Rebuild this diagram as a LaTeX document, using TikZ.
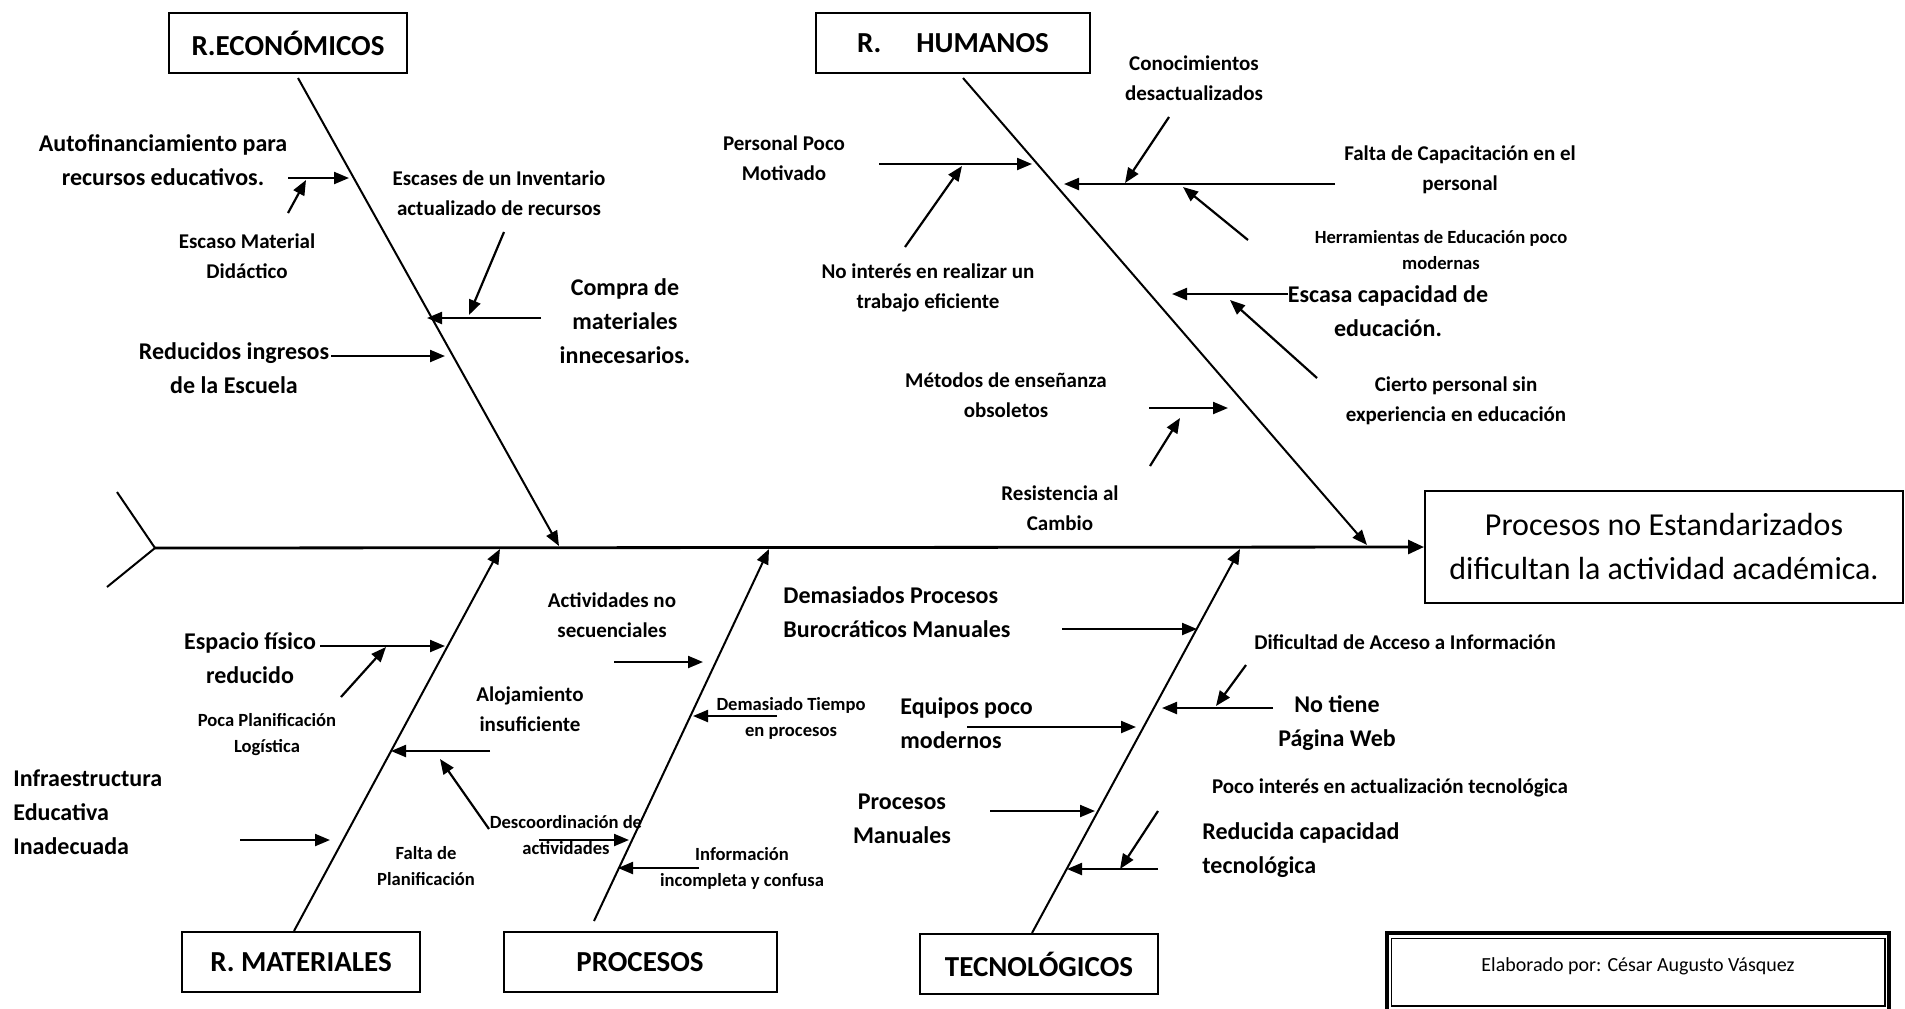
\documentclass[tikz,border=0pt]{standalone}
\usepackage{fontspec}
\setmainfont{Carlito}
\usetikzlibrary{arrows.meta}

\begin{document}
\begin{tikzpicture}[
  x=0.5pt, y=-0.5pt,
  catbox/.style={draw, line width=1pt, font=\bfseries\fontsize{14.5}{17}\selectfont,
    minimum width=119pt, minimum height=30pt},
  effectbox/.style={draw, line width=1pt, font=\fontsize{16}{22}\selectfont, align=center,
    minimum width=239pt, minimum height=56pt},
  big/.style={font=\bfseries\fontsize{12}{17}\selectfont, align=center, inner sep=0pt},
  mid/.style={font=\bfseries\fontsize{10.5}{15}\selectfont, align=center, inner sep=0pt},
  small/.style={font=\bfseries\fontsize{9.3}{13}\selectfont, align=center, inner sep=0pt},
  spine/.style={line width=1pt},
  spinearrow/.style={-{Triangle[length=7.5pt, width=6pt]}, line width=1pt},
  cause/.style={-{Triangle[length=7.5pt, width=6pt]}, line width=1.1pt},
  mainline/.style={-{Triangle[length=8pt, width=7pt]}, line width=1.4pt}
]
  \useasboundingbox (0,0) rectangle (1905,1008);

  % Categories
  \node[catbox] (econ) at (288,43) {R.ECONÓMICOS};
  \node[catbox, minimum width=137pt] (human) at (953,43) {R.\hspace{17.5pt}HUMANOS\hspace{19pt}};
  \node[catbox] (mater) at (301,962) {R. MATERIALES};
  \node[catbox, minimum width=136.5pt] (proc) at (640,962) {PROCESOS};
  \node[catbox] (tecno) at (1039,964) {TECNOLÓGICOS};

  % Effect
  \node[effectbox] (effect) at (1664,547) {Procesos no Estandarizados\\dificultan la actividad académica.};

  \node[draw, line width=1.6pt, minimum width=251pt, minimum height=39pt, text depth=7pt,
    font=\fontsize{10}{12}\selectfont] (autor) at (1638,972) {Elaborado por: César Augusto Vásquez};
  \draw[line width=0.9pt] ([shift={(3pt,-3.5pt)}]autor.north west) rectangle ([shift={(-3pt,3.5pt)}]autor.south east);

  % Backbone
  \coordinate (tail) at (155,548);
  \coordinate (tailup) at (117,492);
  \coordinate (taildown) at (107,587);
  \draw[spine] (tailup) -- (tail) -- (taildown);
  \draw[mainline] (tail) -- (effect.west);

  % Bones
  \coordinate (econend) at (559,546);
  \coordinate (humend) at (1367,545);
  \coordinate (matend) at (500,549);
  \coordinate (procend) at (769,549);
  \coordinate (tecend) at (1240,549);
  \draw[spinearrow] ([shift={(5pt,-2pt)}]econ.south) -- (econend);
  \draw[spinearrow] ([shift={(5pt,-2pt)}]human.south) -- (humend);
  \draw[spinearrow] ([xshift=-3.5pt]mater.north) -- (matend);
  \draw[spinearrow] ([shift={(-23pt,5pt)}]proc.north) -- (procend);
  \draw[spinearrow] ([xshift=-3.5pt]tecno.north) -- (tecend);

  % R. Economicos
  \node[big] (autofin) at (163,160) {Autofinanciamiento para\\recursos educativos.};
  \node[mid] (escaso) at (247,256) {Escaso Material\\Didáctico};
  \node[mid] (escases) at (499,193) {Escases de un Inventario\\actualizado de recursos};
  \node[big] (compra) at (625,321) {Compra de\\materiales\\innecesarios.};
  \node[big] (ingresos) at (234,368) {Reducidos ingresos\\de la Escuela};
  \coordinate (e1a) at (288,178); \coordinate (e1b) at (349,178);
  \coordinate (e2a) at (288,213); \coordinate (e2b) at (306,180);
  \coordinate (e3a) at (504,232); \coordinate (e3b) at (469,315);
  \coordinate (e4a) at (541,318); \coordinate (e4b) at (427,318);
  \coordinate (e5a) at (331,356); \coordinate (e5b) at (445,356);
  \draw[cause] (e1a) -- (e1b);
  \draw[cause] (e2a) -- (e2b);
  \draw[cause] (e3a) -- (e3b);
  \draw[cause] (e4a) -- (e4b);
  \draw[cause] (e5a) -- (e5b);

  % R. Humanos
  \node[mid] (conoc) at (1194,78) {Conocimientos\\desactualizados};
  \node[mid] (motiv) at (784,158) {Personal Poco\\Motivado};
  \node[mid] (interes) at (928,288) {No interés en realizar un\\trabajo eficiente};
  \node[mid] (capac) at (1460,170) {Falta de Capacitación en el\\personal};
  \node[small] (herram) at (1441,250) {Herramientas de Educación poco\\modernas};
  \node[big] (escasa) at (1388,311) {Escasa capacidad de\\educación.};
  \node[mid] (cierto) at (1456,401) {Cierto personal sin\\experiencia en educación};
  \node[mid] (metodos) at (1006,395) {Métodos de enseñanza\\obsoletos};
  \node[mid] (resist) at (1060,508) {Resistencia al\\Cambio};
  \coordinate (h1a) at (879,164); \coordinate (h1b) at (1032,164);
  \coordinate (h2a) at (905,247); \coordinate (h2b) at (962,166);
  \coordinate (h3a) at (1335,184); \coordinate (h3b) at (1064,184);
  \coordinate (h4a) at (1169,117); \coordinate (h4b) at (1125,183);
  \coordinate (h5a) at (1248,240); \coordinate (h5b) at (1183,187);
  \coordinate (h6a) at (1288,294); \coordinate (h6b) at (1172,294);
  \coordinate (h7a) at (1317,378); \coordinate (h7b) at (1230,300);
  \coordinate (h8a) at (1149,408); \coordinate (h8b) at (1228,408);
  \coordinate (h9a) at (1150,466); \coordinate (h9b) at (1180,418);
  \draw[cause] (h1a) -- (h1b);
  \draw[cause] (h2a) -- (h2b);
  \draw[cause] (h3a) -- (h3b);
  \draw[cause] (h4a) -- (h4b);
  \draw[cause] (h5a) -- (h5b);
  \draw[cause] (h6a) -- (h6b);
  \draw[cause] (h7a) -- (h7b);
  \draw[cause] (h8a) -- (h8b);
  \draw[cause] (h9a) -- (h9b);

  % R. Materiales
  \node[big] (espacio) at (250,658) {Espacio físico\\reducido};
  \node[small] (logist) at (267,735) {Poca Planificación\\Logística};
  \node[mid] (aloj) at (530,709) {Alojamiento\\insuficiente};
  \node[big, anchor=west, align=left] (infra) at (13,812) {Infraestructura\\Educativa\\Inadecuada};
  \node[small] (planif) at (426,866) {Falta de\\Planificación};
  \coordinate (m1a) at (320,646); \coordinate (m1b) at (445,646);
  \coordinate (m2a) at (341,697); \coordinate (m2b) at (386,647);
  \coordinate (m3a) at (490,751); \coordinate (m3b) at (391,751);
  \coordinate (m4a) at (489,829); \coordinate (m4b) at (440,759);
  \coordinate (m5a) at (240,840); \coordinate (m5b) at (330,840);
  \draw[cause] (m1a) -- (m1b);
  \draw[cause] (m2a) -- (m2b);
  \draw[cause] (m3a) -- (m3b);
  \draw[cause] (m4a) -- (m4b);
  \draw[cause] (m5a) -- (m5b);

  % Procesos
  \node[mid] (secuen) at (612,615) {Actividades no\\secuenciales};
  \node[small] (descoord) at (566,835) {Descoordinación de\\actividades};
  \node[small] (tiempo) at (791,718) {Demasiado Tiempo\\en procesos};
  \node[small] (info) at (742,868) {Información\\incompleta y confusa};
  \coordinate (p1a) at (614,662); \coordinate (p1b) at (703,662);
  \coordinate (p2a) at (539,840); \coordinate (p2b) at (629,840);
  \coordinate (p3a) at (777,716); \coordinate (p3b) at (693,716);
  \coordinate (p4a) at (699,868); \coordinate (p4b) at (618,868);
  \draw[cause] (p1a) -- (p1b);
  \draw[cause] (p2a) -- (p2b);
  \draw[cause] (p3a) -- (p3b);
  \draw[cause] (p4a) -- (p4b);

  % Tecnologicos
  \node[big, anchor=west, align=left] (buro) at (783,612) {Demasiados Procesos\\Burocráticos Manuales};
  \node[big, anchor=west, align=left] (equipos) at (900,723) {Equipos poco\\modernos};
  \node[big] (manual) at (902,819) {Procesos\\Manuales};
  \node[mid] (acceso) at (1405,642) {Dificultad de Acceso a Información};
  \node[big] (web) at (1337,723) {No tiene\\Página Web};
  \node[mid] (actual) at (1390,788) {Poco interés en actualización tecnológica};
  \node[big, anchor=west, align=left] (capactec) at (1202,850) {Reducida capacidad\\tecnológica};
  \coordinate (t1a) at (1062,629); \coordinate (t1b) at (1197,629);
  \coordinate (t2a) at (967,727); \coordinate (t2b) at (1136,727);
  \coordinate (t3a) at (990,811); \coordinate (t3b) at (1095,811);
  \coordinate (t4a) at (1273,708); \coordinate (t4b) at (1162,708);
  \coordinate (t5a) at (1246,665); \coordinate (t5b) at (1216,706);
  \coordinate (t6a) at (1158,869); \coordinate (t6b) at (1067,869);
  \coordinate (t7a) at (1158,811); \coordinate (t7b) at (1120,869);
  \draw[cause] (t1a) -- (t1b);
  \draw[cause] (t2a) -- (t2b);
  \draw[cause] (t3a) -- (t3b);
  \draw[cause] (t4a) -- (t4b);
  \draw[cause] (t5a) -- (t5b);
  \draw[cause] (t6a) -- (t6b);
  \draw[cause] (t7a) -- (t7b);

\end{tikzpicture}
\end{document}
